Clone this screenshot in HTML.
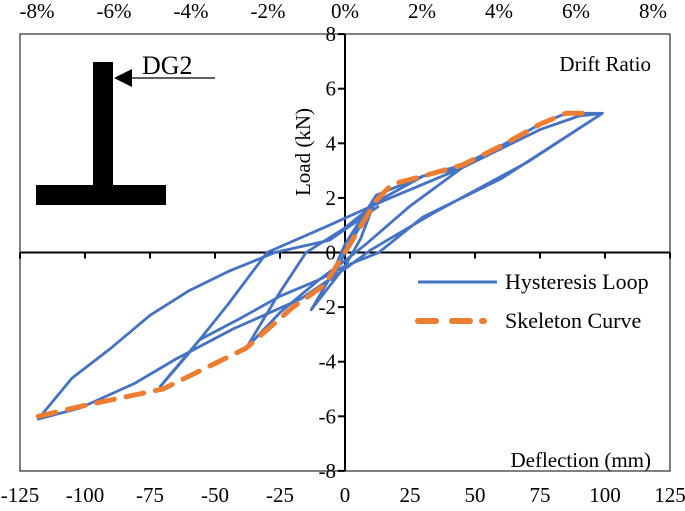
<!DOCTYPE html>
<html><head><meta charset="utf-8"><style>
body{margin:0;background:#fff}
svg text{font-family:"Liberation Serif",serif;fill:#000}
</style></head><body>
<svg width="685" height="506" viewBox="0 0 685 506">
<rect x="20" y="34" width="650" height="437" fill="none" stroke="#000" stroke-width="1"/>
<g id="axes"></g>
<g id="series"></g>
<g>
<rect x="93" y="62" width="20" height="130" fill="#000"/>
<rect x="36" y="185" width="130" height="20" fill="#000"/>
<line x1="128" y1="78" x2="215" y2="78" stroke="#000" stroke-width="1.3"/>
<polygon points="114,78 132,69 132,87" fill="#000"/>
<text x="142" y="74" font-size="26">DG2</text>
</g>
<text x="651" y="71" font-size="21" text-anchor="end">Drift Ratio</text>
<text x="651" y="467" font-size="21" text-anchor="end">Deflection (mm)</text>
<text transform="translate(310,152) rotate(-90)" font-size="21" text-anchor="middle">Load (kN)</text>
<g>
<line x1="418" y1="282" x2="497" y2="282" stroke="#4472c4" stroke-width="3"/>
<text x="505" y="289" font-size="22">Hysteresis Loop</text>
<line x1="418" y1="321" x2="497" y2="321" stroke="#ed7d31" stroke-width="6" stroke-dasharray="18,16,18,12,2,100" stroke-linecap="round"/>
<text x="505" y="328" font-size="22">Skeleton Curve</text>
</g>
</svg>
<script>
const xTicks=[-125,-100,-75,-50,-25,0,25,50,75,100,125];
const yTicks=[-8,-6,-4,-2,0,2,4,6,8];
const driftTicks=["-8%","-6%","-4%","-2%","0%","2%","4%","6%","8%"];
const hystX=[0,5,-5,0,12,6,0,-13,-5,0,12,30,45,25,8,0,-10,-25,-38,-26,-15,0,13,30,45,60,75,85,99,60,30,13,0,-10,-25,-40,-56,-71,-61,-45,-30,-6,15,45,75,90,99,70,35,10,0,-17,-43,-65,-81,-102,-118,-105,-90,-75,-60,-45,-27,-6,13];
const hystY=[0,1,-1,0,2,0.5,-0.5,-2.1,-0.8,0.3,2.1,2.8,3.1,1.7,0.3,-0.3,-1.0,-2.2,-3.5,-1.6,0,0.9,1.9,2.8,3.2,3.9,4.7,5.1,5.1,2.7,1.3,0,-0.5,-1.0,-1.6,-2.4,-3.2,-4.9,-3.8,-1.9,0,1.0,1.9,3.1,4.5,5.0,5.1,3.3,1.5,0.1,-0.6,-1.7,-2.8,-3.9,-4.8,-5.7,-6.1,-4.6,-3.5,-2.3,-1.4,-0.7,0,0.45,1.7];
const skelX=[-118,-100,-70,-38,-20,-8,0,5,12,18,30,45,60,75,85,92];
const skelY=[-6,-5.6,-5,-3.5,-2,-1.2,0,0.8,1.9,2.5,2.8,3.2,3.9,4.7,5.1,5.1];
const NS="http://www.w3.org/2000/svg";
function sx(v){return 345+v*2.6;}
function sy(v){return 252.5-v*27.3;}
function mk(t,a,p){const e=document.createElementNS(NS,t);for(const k in a)e.setAttribute(k,a[k]);p.appendChild(e);return e;}
const ax=document.getElementById('axes');
let l=mk('line',{x1:20,y1:sy(0),x2:670,y2:sy(0),stroke:'#000','stroke-width':2},ax);


l=mk('line',{x1:sx(0),y1:34,x2:sx(0),y2:471,stroke:'#000','stroke-width':2},ax);


xTicks.forEach(v=>{
 mk('line',{x1:sx(v),y1:sy(0),x2:sx(v),y2:sy(0)+6,stroke:'#000','stroke-width':2},ax);
 const t=mk('text',{x:sx(v),y:502,'font-size':21,'text-anchor':'middle'},ax);t.textContent=v;
 
 
});
yTicks.forEach(v=>{
 mk('line',{x1:sx(0)-7,y1:sy(v),x2:sx(0),y2:sy(v),stroke:'#000','stroke-width':2},ax);
 const t=mk('text',{x:sx(0)-9,y:sy(v)+7,'font-size':21,'text-anchor':'end'},ax);t.textContent=v;
 
 
});
driftTicks.forEach((s,i)=>{
 const t=mk('text',{x:37+i*77,y:18,'font-size':21,'text-anchor':'middle'},ax);t.textContent=s;
 
 
});
const g=document.getElementById('series');
let d=hystX.map((x,i)=>(i?'L':'M')+sx(x).toFixed(1)+','+sy(hystY[i]).toFixed(1)).join('');
let p=mk('path',{d:d,fill:'none',stroke:'#4472c4','stroke-width':2.8,'stroke-linejoin':'round'},g);


d=skelX.map((x,i)=>(i?'L':'M')+sx(x).toFixed(1)+','+sy(skelY[i]).toFixed(1)).join('');
p=mk('path',{d:d,fill:'none',stroke:'#ed7d31','stroke-width':5,'stroke-dasharray':'18,12','stroke-linecap':'round'},g);


</script>
</body></html>
